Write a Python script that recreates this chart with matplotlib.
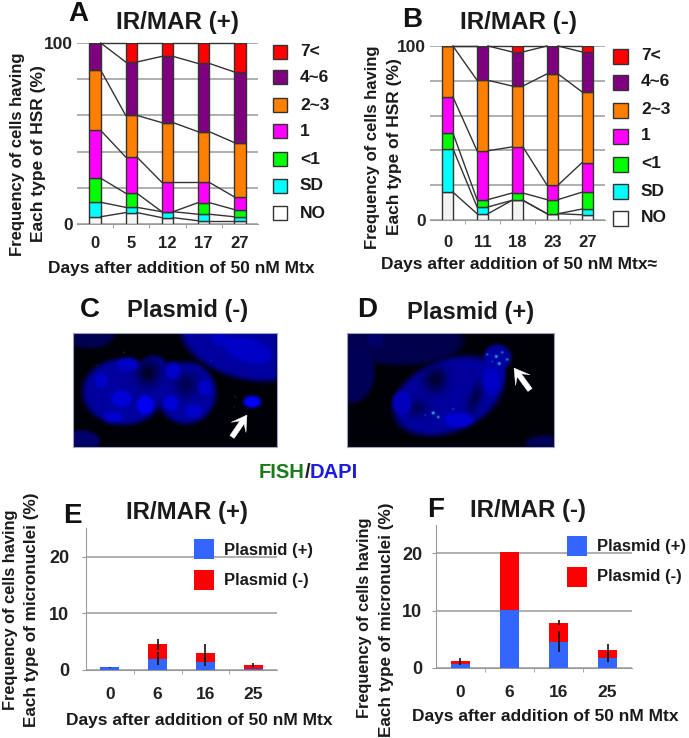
import numpy as np
import matplotlib
matplotlib.use("Agg")
import matplotlib.pyplot as plt
from matplotlib.patches import Rectangle, Polygon

plt.rcParams['font.family'] = ['Liberation Sans', 'DejaVu Sans']
plt.rcParams['font.weight'] = 'bold'

W, H = 689, 738
DPI = 100

# ---------- data ----------
hsr_types = ['NO', 'SD', '<1', '1', '2~3', '4~6', '7<']
hsr_colors = ['#F4F4F4', '#00FFFF', '#00FF00', '#FF00FF', '#FF8000', '#7F007F', '#FF0000']

days_a = ['0', '5', '12', '17', '27']
a_no = [4, 6.3, 3.5, 1.8, 1.8]
a_sd = [8, 2.9, 3.3, 3.6, 2.2]
a_lt1 = [13.3, 7.8, 0, 6.4, 4]
a_one = [26.4, 20, 16.2, 11.2, 7]
a_2_3 = [33.3, 23, 33, 28, 30]
a_4_6 = [15, 29.5, 36.6, 37.7, 39]
a_7 = [0, 10.5, 7.4, 11.3, 16]

days_b = ['0', '11', '18', '23', '27']
b_no = [16, 3.6, 11.3, 3.6, 3]
b_sd = [25, 3.9, 0, 0, 3.3]
b_lt1 = [9, 4.2, 4.2, 8.1, 9.7]
b_one = [20.7, 28.1, 26.5, 8.3, 17]
b_2_3 = [29.3, 40.5, 35, 64, 40.6]
b_4_6 = [0, 19.7, 19.6, 16, 23]
b_7 = [0, 0, 3.4, 0, 3.4]

days_mn = ['0', '6', '16', '25']
e_plus = [0.5, 2.0, 1.4, 0.1]
e_minus = [0.0, 2.5, 1.6, 0.8]
e_plus_err = [0.1, 1.1, 0.75, 0.0]
e_total_err = [0.0, 0.9, 1.5, 0.4]

f_plus = [0.7, 10.2, 4.6, 1.8]
f_minus = [0.6, 10.0, 3.3, 1.3]
f_plus_err = [0.2, 0.0, 1.8, 0.7]
f_total_err = [0.4, 0.0, 0.4, 1.1]

# ---------- layout helpers ----------
fig = plt.figure(figsize=(W / DPI, H / DPI), dpi=DPI, facecolor='white')


def px_axes(x0, y_top, x1, y_bot, **kw):
    return fig.add_axes([x0 / W, 1 - y_bot / H, (x1 - x0) / W, (y_bot - y_top) / H], **kw)


GRID = '#9a9a9a'
DARK = '#222222'


def hsr_panel(box, days, series, ypad, xpad):
    ax = px_axes(*box)
    x = np.arange(len(days))
    width = 0.31
    bottom = np.zeros(len(days))
    tops = []
    for vals, col in zip(series, hsr_colors):
        ax.bar(x, vals, width, bottom=bottom, color=col, edgecolor='#333333', linewidth=1.0, zorder=3)
        bottom = bottom + np.array(vals)
        tops.append(bottom.copy())
    for top in tops:
        for i in range(len(days) - 1):
            ax.plot([x[i] + width / 2, x[i + 1] - width / 2], [top[i], top[i + 1]],
                    color='#333333', lw=1.0, zorder=4, clip_on=False)
    ax.set_xlim(-0.5, len(days) - 0.5)
    ax.set_ylim(0, 100)
    ax.set_yticks([0, 20, 40, 60, 80, 100])
    ax.set_yticklabels(['0', '', '', '', '', '100'], fontsize=12.5, fontweight='bold', color=DARK)
    ax.set_xticks(x)
    ax.set_xticklabels(days, fontsize=12, fontweight='bold', color=DARK)
    ax.set_xticks(x[:-1] + 0.5, minor=True)
    ax.grid(axis='y', color=GRID, lw=1.1, zorder=0)
    ax.set_axisbelow(True)
    for s in ('top', 'right', 'left'):
        ax.spines[s].set_visible(False)
    ax.spines['bottom'].set_color(GRID)
    ax.tick_params(axis='y', length=0, pad=ypad)
    ax.tick_params(axis='x', which='major', length=0, pad=xpad)
    ax.tick_params(axis='x', which='minor', length=3, color=GRID)
    return ax


def mn_panel(box, days, plus, minus, plus_err, total_err, ypad):
    ax = px_axes(*box)
    x = np.arange(len(days))
    plus = np.array(plus)
    minus = np.array(minus)
    width = 0.4
    ax.bar(x, plus, width, color='#3366FF', zorder=3)
    ax.bar(x, minus, width, bottom=plus, color='#FF0000', zorder=3)
    for i in range(len(days)):
        if plus_err[i] > 0:
            ax.errorbar(x[i], plus[i], yerr=plus_err[i], color='#111111', lw=1.2, zorder=4)
        if total_err[i] > 0:
            ax.errorbar(x[i], plus[i] + minus[i], yerr=total_err[i], color='#111111', lw=1.2, zorder=4)
    ax.set_xlim(-0.5, len(days) - 0.5)
    ax.set_ylim(0, 25)
    ax.set_yticks([0, 10, 20])
    ax.set_yticklabels(['0', '10', '20'], fontsize=13, fontweight='bold', color=DARK)
    ax.set_xticks(x)
    ax.set_xticklabels(days, fontsize=12.5, fontweight='bold', color=DARK)
    ax.set_xticks(x[:-1] + 0.5, minor=True)
    ax.grid(axis='y', color=GRID, lw=1.1, zorder=0)
    ax.set_axisbelow(True)
    for s in ('top', 'right'):
        ax.spines[s].set_visible(False)
    ax.spines['bottom'].set_color(GRID)
    ax.spines['left'].set_color(GRID)
    ax.tick_params(axis='y', length=3, color=GRID, pad=ypad)
    ax.tick_params(axis='x', which='major', length=0, pad=12)
    ax.tick_params(axis='x', which='minor', length=3, color=GRID)
    return ax


# ---------- chart panels ----------
hsr_panel((77, 43, 258, 224), days_a, [a_no, a_sd, a_lt1, a_one, a_2_3, a_4_6, a_7], 3, 9)
hsr_panel((430, 46, 605, 220), days_b, [b_no, b_sd, b_lt1, b_one, b_2_3, b_4_6, b_7], 3, 11)
mn_panel((86, 670 - 25 * 5.667, 277, 670), days_mn, e_plus, e_minus, e_plus_err, e_total_err, 9)
mn_panel((436, 668 - 25 * 5.733, 632, 668), days_mn, f_plus, f_minus, f_plus_err, f_total_err, 7)


# ---------- microscopy panels (painted from a table of blobs) ----------
def paint(w, h, blobs, dots, sigma=1.3):
    yy, xx = np.mgrid[0:h * 2, 0:w * 2] / 2.0
    blue = np.full_like(xx, 0.03)
    for cx, cy, rx, ry, ang, amp in blobs:
        a = np.deg2rad(ang)
        u = (xx - cx) * np.cos(a) + (yy - cy) * np.sin(a)
        v = -(xx - cx) * np.sin(a) + (yy - cy) * np.cos(a)
        d = (u / rx) ** 2 + (v / ry) ** 2
        if amp >= 0:
            blue = np.maximum(blue, amp * np.clip((1.15 - d) / 0.35, 0, 1))
        else:
            blue = blue * (1 + amp * np.exp(-d))
    green = np.zeros_like(xx)
    for cx, cy, r, amp in dots:
        green = green + amp * np.exp(-((xx - cx) ** 2 + (yy - cy) ** 2) / (2 * r ** 2))
    k = np.exp(-np.arange(-10, 11) ** 2 / (2 * (sigma * 2) ** 2))
    k /= k.sum()
    for axis in (0, 1):
        blue = np.apply_along_axis(lambda m: np.convolve(m, k, mode='same'), axis, blue)
    img = np.dstack([green * 0.25, np.clip(green, 0, 1), np.clip(blue + green * 0.3, 0, 1)])
    return np.clip(img, 0, 1)


c_blobs = [
    (50, 59, 41, 33, 0, 0.62), (113, 60, 30, 31, 0, 0.62), (80, 45, 18, 22, 0, 0.62),
    (167, 13, 62, 32, 18, 0.62), (17, 3, 24, 13, 0, 0.32), (7, 108, 20, 11, 0, 0.42),
    (75, 40, 11, 13, 10, -0.75), (113, 52, 11, 12, 0, -0.5), (28, 48, 7, 8, 0, 0.8),
    (48, 66, 11, 9, 0, 0.85), (72, 72, 9, 10, 0, 0.95), (98, 70, 8, 8, 0, 0.85),
    (120, 78, 9, 7, 0, 0.8), (132, 55, 7, 8, 0, 0.8), (100, 38, 8, 9, 0, 0.8),
    (40, 84, 10, 6, 0, 0.8), (175, 18, 26, 13, 15, 0.78), (150, 8, 14, 6, 15, 0.78),
    (179, 69, 9, 6, 0, 1.0), (54, 32, 12, 7, 0, 0.78),
]
c_dots = [(162, 64, 0.6, 0.25), (51, 20, 0.6, 0.25), (138, 28, 0.6, 0.2), (161, 74, 0.6, 0.2), (24, 33, 0.6, 0.15)]
d_blobs = [
    (101, 63, 58, 36, -22, 0.62), (145, 44, 13, 24, 8, 0.66),
    (55, 9, 62, 24, 0, 0.3), (4, 38, 24, 33, 0, 0.34), (198, 110, 20, 8, 0, 0.35),
    (88, 47, 11, 12, 20, -0.7), (70, 75, 11, 8, 0, -0.45), (128, 65, 6, 16, 20, -0.55),
    (150, 25, 14, 13, 0, 0.62), (111, 87, 16, 8, 0, 0.82), (55, 70, 10, 13, 0, 0.74),
    (28, 8, 9, 7, 0, 0.42), (144, 48, 9, 14, 0, 0.78),
]
d_dots = [
    (86, 80, 1.0, 0.9), (91, 84, 0.9, 0.7), (78, 82, 0.6, 0.3), (106, 76, 0.7, 0.3),
    (140, 22, 0.8, 0.5), (149, 24, 1.0, 0.8), (155, 20, 0.8, 0.6), (160, 27, 0.9, 0.6),
    (152, 31, 1.0, 0.8), (145, 29, 0.7, 0.3),
]

ax_c = px_axes(73, 333, 277, 447)
ax_c.imshow(paint(204, 114, c_blobs, c_dots), extent=(0, 204, 114, 0), aspect='auto', interpolation='bilinear')
ax_d = px_axes(347, 333, 554, 447)
ax_d.imshow(paint(207, 114, d_blobs, d_dots), extent=(0, 207, 114, 0), aspect='auto', interpolation='bilinear')
for a in (ax_c, ax_d):
    a.set_xticks([])
    a.set_yticks([])
    for s in a.spines.values():
        s.set_color('#a0a0c0')
        s.set_linewidth(0.8)


def arrow(ax, tail, tip):
    tail = np.array(tail, float)
    tip = np.array(tip, float)
    L = np.linalg.norm(tip - tail)
    u = (tip - tail) / L
    n = np.array([-u[1], u[0]])
    shaft, notch, head, wing = 2.6, 9.0, 15.0, 9.0
    pts = [
        tail + n * shaft, tip - u * notch + n * shaft, tip - u * head + n * wing, tip,
        tip - u * head - n * wing, tip - u * notch - n * shaft, tail - n * shaft,
    ]
    ax.add_patch(Polygon(pts, closed=True, fc='white', ec='white', lw=0.3, zorder=5))


arrow(ax_c, (159, 104), (174, 82))
arrow(ax_d, (183, 57), (167, 35))

# ---------- overlay for text and keys ----------
ov = fig.add_axes([0, 0, 1, 1], zorder=10)
ov.set_xlim(0, W)
ov.set_ylim(H, 0)
ov.axis('off')
ov.patch.set_alpha(0)


def T(x, y, s, size, ha='center', va='center', rot=0, color='#1a1a1a', **kw):
    ov.text(x, y, s, fontsize=size, ha=ha, va=va, rotation=rot, color=color, fontweight='bold', **kw)


# panel letters and titles
T(78, 14, 'A', 20, color='#111111')
T(177, 23, 'IR/MAR (+)', 17.5)
T(412, 20, 'B', 20, color='#111111')
T(518, 22, 'IR/MAR (-)', 17.5)
T(90, 310, 'C', 20, color='#111111')
T(188, 311, 'Plasmid (-)', 17)
T(367, 310, 'D', 20, color='#111111')
T(471, 313, 'Plasmid (+)', 17)
T(72, 516, 'E', 20, color='#111111')
T(187, 512, 'IR/MAR (+)', 17.3)
T(436, 510, 'F', 20, color='#111111')
T(528, 510, 'IR/MAR (-)', 17.3)

# FISH/DAPI
T(305, 472, 'FISH', 14.5, ha='right', color='#1a7a1a')
T(305, 472, '/', 14.5, ha='left', color='#222222')
T(310, 472, 'DAPI', 14.5, ha='left', color='#1a1ae0')

# axis titles
T(181, 268, 'Days after addition of 50 nM Mtx', 12.5)
T(519, 264, 'Days after addition of 50 nM Mtx\u2248', 12.5)
T(199, 720, 'Days after addition of 50 nM Mtx', 12.5)
T(545, 717, 'Days after addition of 50 nM Mtx', 12.5)
T(18, 154, 'Frequency of cells having', 12, rot=90)
T(39, 154, 'Each type of HSR (%)', 12.5, rot=90)
T(373, 147, 'Frequency of cells having', 12, rot=90)
T(395, 147, 'Each type of HSR (%)', 12.5, rot=90)
T(11, 610, 'Frequency of cells having', 11.8, rot=90)
T(32, 610, 'Each type of micronuclei (%)', 12.3, rot=90)
T(365, 618, 'Frequency of cells having', 11.8, rot=90)
T(387, 620, 'Each type of micronuclei (%)', 12.3, rot=90)

# HSR keys
key_names = hsr_types[::-1]
key_cols = hsr_colors[::-1]
ya = [52, 77, 105, 131, 159, 186, 213]
yb = [56, 82, 110, 136, 164, 191, 218]
for name, col, y1, y2 in zip(key_names, key_cols, ya, yb):
    fc = 'white' if name == 'NO' else col
    ov.add_patch(Rectangle((273, y1 - 7), 14, 14, fc=fc, ec='#333333', lw=1))
    T(300, y1, name, 12.5, ha='left')
    ov.add_patch(Rectangle((613, y2 - 7), 15, 15, fc=fc, ec='#333333', lw=1))
    T(641, y2, name, 12.5, ha='left')

# micronuclei keys
for x0, ytop, xt, y_plus, y_minus, h in [(194, 539, 224, 550, 580, 20), (567, 536, 597, 546, 577, 20)]:
    ov.add_patch(Rectangle((x0, ytop), 20, h, fc='#3366FF', ec='none'))
    ov.add_patch(Rectangle((x0, ytop + 31), 20, h, fc='#FF0000', ec='none'))
    T(xt, y_plus, 'Plasmid (+)', 12, ha='left')
    T(xt, y_minus, 'Plasmid (-)', 12, ha='left')

fig.savefig('out.png', dpi=DPI)
